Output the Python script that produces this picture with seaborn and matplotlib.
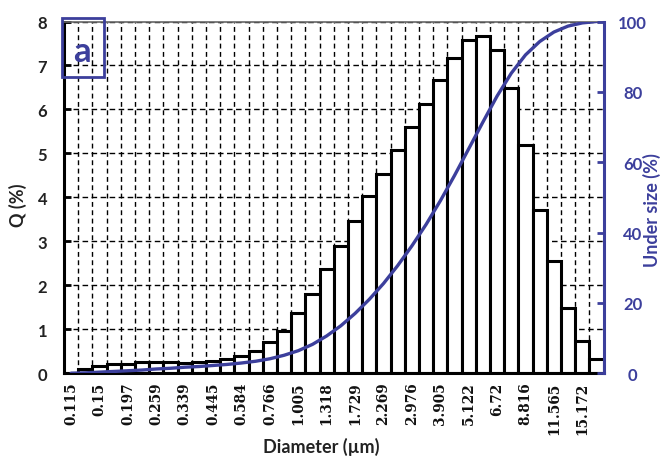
import numpy as np
import pandas as pd
import matplotlib
matplotlib.use("Agg")
import matplotlib.pyplot as plt
import seaborn as sns
from matplotlib.patches import Rectangle

# Size classes (µm), frequency per class (%) and cumulative undersize (%)
diameter = ["0.115", "0.131", "0.15", "0.172", "0.197", "0.226", "0.259", "0.296",
            "0.339", "0.389", "0.445", "0.51", "0.584", "0.669", "0.766", "0.877",
            "1.005", "1.151", "1.318", "1.51", "1.729", "1.981", "2.269", "2.599",
            "2.976", "3.409", "3.905", "4.472", "5.122", "5.867", "6.72", "7.697",
            "8.816", "10.097", "11.565", "13.246", "15.172", "17.377"]
q_percent = [0.00, 0.09, 0.17, 0.21, 0.22, 0.25, 0.25, 0.25, 0.24, 0.25,
             0.28, 0.32, 0.38, 0.50, 0.70, 0.96, 1.36, 1.81, 2.36, 2.90,
             3.47, 4.04, 4.53, 5.07, 5.59, 6.13, 6.66, 7.18, 7.58, 7.67,
             7.35, 6.48, 5.19, 3.71, 2.56, 1.49, 0.74, 0.32]
undersize = [0.0, 0.1, 0.3, 0.5, 0.7, 0.9, 1.2, 1.4, 1.7, 1.9,
             2.2, 2.5, 2.9, 3.4, 4.1, 5.1, 6.4, 8.2, 10.6, 13.5,
             17.0, 21.0, 25.5, 30.6, 36.2, 42.3, 49.0, 56.2, 63.8, 71.4,
             78.8, 85.3, 90.5, 94.3, 97.0, 98.7, 99.6, 100.0]
q_ticks = list(range(0, 9))
u_ticks = list(range(0, 101, 20))

BLUE = "#3c3f9c"
SANS = ["Lato", "DejaVu Sans"]
SERIF = ["DejaVu Serif"]

sns.set_theme(style="white")
plt.rcParams["font.family"] = SANS

df = pd.DataFrame({"diameter": diameter, "q": q_percent, "under": undersize})
df["pos"] = df.index

fig = plt.figure(figsize=(6.64, 4.60), dpi=100)
ax = fig.add_axes([64 / 664, 1 - 374.2 / 460, 539.6 / 664, 351.7 / 460])

sns.barplot(data=df, x="diameter", y="q", order=diameter, color="white",
            saturation=1, edgecolor="black", linewidth=2.2, width=1.0,
            errorbar=None, ax=ax, zorder=2)

ax.set_xlim(-0.5, len(diameter) - 0.5)
ax.set_ylim(0, 8)
ax.set_yticks(q_ticks)
ax.set_yticklabels([str(t) for t in q_ticks], fontweight="bold", fontsize=12,
                   color="#222222")
ax.set_xticks(df["pos"][::2])
ax.set_xticklabels(diameter[::2], rotation=90, family=SERIF, fontweight="bold",
                   fontsize=9.8, color="#111111")
ax.set_xticks(df["pos"][:-1] + 0.5, minor=True)

# dashed grid: class boundaries and integer frequency levels
ax.set_axisbelow(True)
ax.grid(which="minor", axis="x", color="black", linestyle=(0, (3.5, 2.5)), linewidth=1.0)
ax.grid(which="major", axis="y", color="black", linestyle=(0, (4, 2.5)), linewidth=1.0)
ax.grid(which="major", axis="x", visible=False)

ax.tick_params(axis="y", which="major", direction="in", length=5, width=2,
               color="black", pad=12, left=True)
ax.tick_params(axis="x", which="both", length=0, pad=6, bottom=True)

for side in ["left", "bottom"]:
    ax.spines[side].set_color("black")
    ax.spines[side].set_linewidth(2.2)
ax.spines["top"].set_color("#666666")
ax.spines["top"].set_linewidth(1.2)
ax.spines["right"].set_visible(False)

ax.set_xlabel("Diameter (µm)", fontsize=13, fontweight="bold", color="#222222")
ax.set_ylabel("Q (%)", fontsize=13, fontweight="bold", color="#222222")
ax.xaxis.set_label_coords((321 - 64) / 539.6, (374.2 - 447) / 351.7)
ax.xaxis.label.set_verticalalignment("center")
ax.yaxis.set_label_coords((17.5 - 64) / 539.6, (374.2 - 205) / 351.7)
ax.yaxis.label.set_verticalalignment("center")

# cumulative undersize curve on the secondary axis
ax2 = ax.twinx()
sns.lineplot(data=df, x="pos", y="under", color=BLUE, linewidth=2.4, ax=ax2)
ax2.set_ylim(0, 100)
ax2.set_xlim(-0.5, len(diameter) - 0.5)
ax2.set_yticks(u_ticks)
ax2.set_yticklabels([str(t) for t in u_ticks], fontweight="bold", fontsize=12,
                    color=BLUE, ha="center")
ax2.tick_params(axis="y", direction="in", length=5, width=2, color=BLUE, pad=21,
                right=True)
ax2.spines["right"].set_color(BLUE)
ax2.spines["right"].set_linewidth(2.2)
for side in ["left", "bottom", "top"]:
    ax2.spines[side].set_visible(False)
ax2.set_ylabel("Under size (%)", fontsize=13, fontweight="bold", color=BLUE)
ax2.yaxis.set_label_coords((652 - 64) / 539.6, (374.2 - 210) / 351.7)
ax2.yaxis.label.set_verticalalignment("center")
ax2.grid(False)

# panel letter
ax2.add_patch(Rectangle((-0.004, 0.842), 0.078, 0.168, transform=ax.transAxes,
                        fill=False, edgecolor=BLUE, linewidth=2, clip_on=False,
                        zorder=5))
ax2.text(0.033, 0.917, "a", transform=ax.transAxes, ha="center", va="center",
         fontsize=25, fontweight="bold", color=BLUE, family=SANS)

fig.savefig("out.png", dpi=100)
